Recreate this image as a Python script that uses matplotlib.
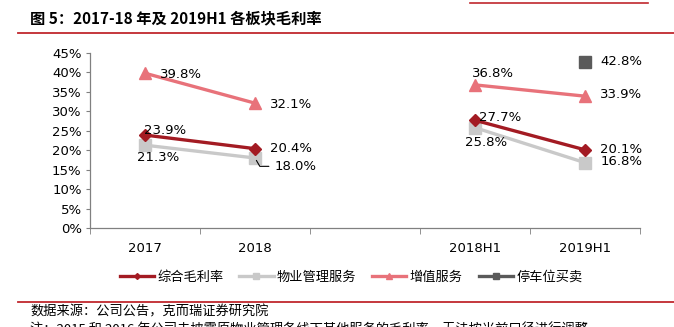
import matplotlib
matplotlib.use("Agg")
import matplotlib.pyplot as plt
import numpy as np
from matplotlib.lines import Line2D

plt.rcParams['font.family'] = ['DejaVu Sans', 'Noto Sans CJK SC']

categories = ["2017", "2018", "", "2018H1", "2019H1"]
overall = [23.9, 20.4, np.nan, 27.7, 20.1]
property_mgmt = [21.3, 18.0, np.nan, 25.8, 16.8]
value_added = [39.8, 32.1, np.nan, 36.8, 33.9]
parking = [np.nan, np.nan, np.nan, np.nan, 42.8]
series_names = ["综合毛利率", "物业管理服务", "增值服务", "停车位买卖"]
y_ticks = [0, 5, 10, 15, 20, 25, 30, 35, 40, 45]

c_overall = "#A31B23"
c_prop = "#C9C9C9"
c_va = "#E8727A"
c_park = "#5A5A5A"

fig = plt.figure(figsize=(6.74, 3.27), dpi=100)
W, H = 674, 327
ax = fig.add_axes([90 / W, 1 - 228 / H, 550 / W, 175 / H])

x = np.arange(len(categories))
lw = 2.4
ax.plot(x, value_added, color=c_va, lw=lw, marker="^", ms=8.5, zorder=3)
ax.plot(x, property_mgmt, color=c_prop, lw=lw, marker="s", ms=8.5, zorder=3)
ax.plot(x, overall, color=c_overall, lw=lw, marker="D", ms=6.5, zorder=4)
ax.plot(x, parking, color=c_park, lw=lw, marker="s", ms=9, zorder=3)

ax.set_xlim(-0.5, len(categories) - 0.5)
ax.set_ylim(0, 45)
ax.set_yticks(y_ticks)
ax.set_yticklabels([f"{v}%" for v in y_ticks], fontsize=9.5)
ax.set_xticks(x)
ax.set_xticklabels(categories, fontsize=9.5)
ax.set_xticks(np.arange(-0.5, len(categories)), minor=True)
ax.tick_params(axis="x", which="major", length=0, pad=10)
ax.tick_params(axis="x", which="minor", length=4, color="#808080", direction="out")
ax.tick_params(axis="y", length=3, color="#808080", direction="out", pad=3)
for s in ["top", "right"]:
    ax.spines[s].set_visible(False)
for s in ["left", "bottom"]:
    ax.spines[s].set_color("#808080")
    ax.spines[s].set_linewidth(0.9)

fs = 9.5
def lab(xi, v, dx, dy, ha="left", va="center"):
    ax.annotate(f"{v:.1f}%", (xi, v), xytext=(dx, dy), textcoords="offset points",
                fontsize=fs, ha=ha, va=va, zorder=6)

# 2017
lab(0, value_added[0], 11, -1)
lab(0, overall[0], -1, 3)
lab(0, property_mgmt[0], -6, -9)
# 2018
lab(1, value_added[1], 11, -1)
lab(1, overall[1], 11, 0)
ax.annotate(f"{property_mgmt[1]:.1f}%", (1, property_mgmt[1]), xytext=(14, -6),
            textcoords="offset points", fontsize=fs, ha="left", va="center",
            arrowprops=dict(arrowstyle="-", color="black", lw=0.8,
                            connectionstyle="angle,angleA=0,angleB=-60,rad=0",
                            shrinkA=2, shrinkB=2), zorder=6)
# 2018H1
lab(3, value_added[3], -2, 8)
lab(3, overall[3], 3, 2)
lab(3, property_mgmt[3], -7, -11)
# 2019H1
lab(4, parking[4], 11, 0)
lab(4, value_added[4], 11, 1)
lab(4, overall[4], 11, 0)
lab(4, property_mgmt[4], 11, 1)

# legend
handles = [
    Line2D([], [], color=c_overall, lw=2.4, marker="D", ms=3),
    Line2D([], [], color=c_prop, lw=2.4, marker="s", ms=4),
    Line2D([], [], color=c_va, lw=2.4, marker="^", ms=4),
    Line2D([], [], color=c_park, lw=2.4, marker="s", ms=4),
]
fig.legend(handles, series_names, loc="center", bbox_to_anchor=(351 / W, 1 - 277 / H),
           ncol=4, frameon=False, handlelength=2.6, handletextpad=0.25,
           columnspacing=1.2, prop={"family": ["Noto Sans CJK SC"], "size": 9.5})

# header decorations
fig.add_artist(Line2D([470 / W, 648 / W], [1 - 2.5 / H, 1 - 2.5 / H], color="#C0272D", lw=1.2))
fig.text(30 / W, 1 - 18 / H, "图 5：2017-18 年及 2019H1 各板块毛利率", fontsize=11,
         fontweight="bold", family=["Noto Sans CJK SC", "DejaVu Sans"], ha="left", va="center")
fig.add_artist(Line2D([18 / W, 1.0], [1 - 33 / H, 1 - 33 / H], color="#C0272D", lw=1.3))
fig.add_artist(Line2D([18 / W, 1.0], [1 - 302 / H, 1 - 302 / H], color="#C0272D", lw=1.3))
fig.text(30 / W, 1 - 312 / H, "数据来源：公司公告，克而瑞证券研究院", fontsize=9.5,
         family=["Noto Sans CJK SC", "DejaVu Sans"], ha="left", va="center")
fig.text(30 / W, 1 - 330 / H, "注：2015 和 2016 年公司未披露原物业管理各线下其他服务的毛利率，无法按当前口径进行调整",
         fontsize=9.5, family=["Noto Sans CJK SC", "DejaVu Sans"], ha="left", va="center")

fig.savefig("out.png", dpi=100)
